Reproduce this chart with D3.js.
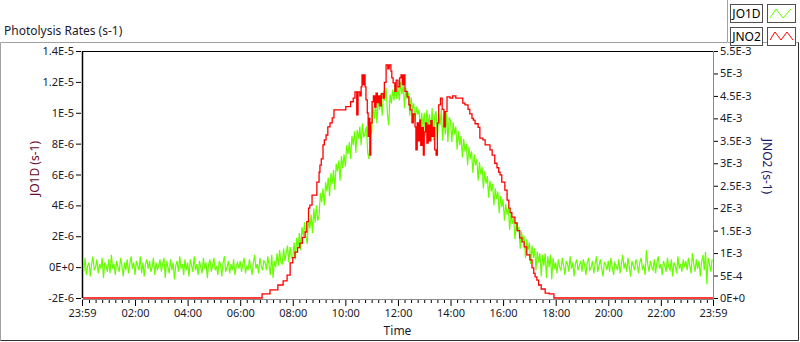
<!DOCTYPE html>
<html>
<head>
<meta charset="utf-8">
<script src="https://cdn.jsdelivr.net/npm/d3@7"></script>
<style>
  body { margin: 0; background: #fff; }
  svg { display: block; font-family: 'Noto Sans', sans-serif; }
</style>
</head>
<body>
<div id="chart"></div>
<script>
// JO1D, 1E-6 s-1, one reading every 3 minutes from 00:00 (one row per hour)
const jo1d = [
  0.4,-0.3,0.6,-0.5,0.1,0.3,-0.6,0.2,0.7,-0.2,0.0,0.5,-0.4,0.2,-0.1,0.6,-0.7,0.3,0.1,-0.3,
  0.5,-0.4,0.8,-0.1,0.2,-0.5,0.4,0.0,-0.3,0.6,0.1,-0.6,0.3,-0.2,0.5,-0.4,0.2,0.7,-0.1,0.3,
  -0.5,0.4,0.1,-0.2,0.7,-0.4,0.3,-0.6,0.2,0.5,-0.1,0.4,-0.3,0.0,0.6,-0.5,0.3,-0.2,0.1,0.5,
  -0.3,0.2,0.6,-0.7,0.4,0.0,-0.4,0.5,-0.2,0.3,-0.8,0.1,0.4,-0.3,0.7,-0.1,0.2,-0.5,0.5,-0.2,
  0.3,-0.6,0.5,0.1,-0.3,0.7,-0.2,0.2,-0.5,0.4,0.0,-0.4,0.6,-0.1,0.3,-0.7,0.2,0.5,-0.3,0.1,
  0.6,-0.2,0.1,-0.5,0.4,0.2,-0.6,0.3,0.7,-0.3,0.0,0.4,-0.4,0.2,-0.2,0.5,-0.5,0.1,0.3,-0.1,
  0.4,-0.3,0.2,0.6,-0.4,0.1,-0.2,0.5,0.0,-0.5,0.3,0.8,-0.1,0.2,-0.4,0.6,0.1,-0.2,0.4,0.3,
  -0.2,0.7,0.1,-0.5,0.8,-0.7,0.4,0.0,0.9,0.1,1.1,0.3,0.2,1.2,0.4,0.9,1.4,0.3,1.3,0.6,
  0.6,1.6,0.5,1.9,1.3,2.2,1.1,2.6,2.0,2.9,2.0,1.5,3.2,2.5,3.4,2.2,3.8,2.9,4.0,3.0,
  3.3,4.8,4.2,5.1,4.0,5.5,4.9,5.8,4.6,6.1,5.4,6.3,5.0,6.7,6.2,6.9,5.6,7.2,6.4,7.3,
  6.5,7.9,7.3,8.1,7.0,8.5,7.9,8.8,7.4,8.9,8.3,9.1,7.9,9.3,8.4,8.7,9.1,7.4,7.0,8.6,
  8.7,10.4,9.6,10.7,9.3,11.0,10.2,11.2,9.8,11.4,10.8,11.6,9.9,9.2,11.2,10.6,11.5,10.8,11.9,10.9,
  11.7,10.8,12.0,11.2,11.8,10.3,11.6,10.9,11.3,9.8,11.0,10.2,10.6,9.4,10.4,9.9,10.2,8.9,10.0,9.1,
  10.0,8.5,10.2,9.1,9.9,8.6,10.3,8.2,9.8,10.1,8.3,9.9,9.2,10.2,8.2,9.8,8.6,10.0,8.1,9.7,
  9.5,8.1,9.4,8.6,9.1,7.6,8.8,7.9,8.5,7.1,8.3,7.5,8.0,6.6,7.8,7.0,7.5,6.1,7.3,6.6,
  7.0,5.6,6.8,6.0,6.5,5.1,6.2,5.4,5.9,4.5,5.6,4.9,5.4,4.0,5.1,4.4,4.9,3.5,4.6,3.9,
  4.4,3.0,4.1,3.4,3.8,2.4,3.5,2.8,3.2,1.8,2.9,2.3,2.6,1.2,2.3,1.7,2.0,0.6,1.8,1.1,
  1.6,0.2,1.4,0.6,1.2,-0.2,1.0,0.3,0.9,-0.6,0.8,0.1,0.9,-0.7,0.7,0.0,0.8,-0.8,0.6,-0.1,
  0.3,-0.4,0.5,0.0,-0.2,0.6,0.1,-0.5,0.4,0.2,-0.3,0.7,-0.1,0.3,-0.6,0.2,0.5,-0.2,0.1,0.4,
  -0.3,0.5,0.1,-0.5,0.3,0.6,-0.2,0.0,0.4,-0.4,0.2,0.7,-0.3,0.1,0.5,-0.1,-0.6,0.3,0.2,-0.2,
  0.4,-0.3,0.6,0.0,-0.5,0.3,0.1,-0.2,0.5,-0.4,0.2,0.8,-0.1,0.3,-0.3,0.6,0.0,-0.6,0.4,0.1,
  -0.2,0.5,0.2,-0.4,0.3,0.6,-0.1,0.1,-0.5,1.1,0.2,-0.3,0.4,0.0,-0.2,0.5,-0.4,0.3,0.7,-0.1,
  0.2,-0.5,0.4,0.1,-0.3,0.6,0.0,-0.2,0.5,-0.6,0.3,0.1,-0.4,0.7,-0.1,0.2,-0.3,0.5,0.0,0.4,
  -0.2,0.6,0.1,-0.4,0.9,0.2,-0.3,0.5,-0.1,0.4,-0.6,0.3,0.8,-0.2,1.0,-1.1,0.6,0.2,-0.3,0.5
];
const jo1dStep = 3;

// JNO2, 1E-3 s-1, step changes as [minute of day, value]
const jno2 = [
  [-1,0],[410,0.09],[428,0.18],[446,0.29],[458,0.38],[467,0.51],[474,0.78],[480,0.9],
  [485,1.02],[491,1.12],[496,1.22],[502,1.35],[508,1.47],[512,1.7],[516,2.0],[519,2.07],
  [524,2.29],[535,2.58],[540,2.8],[542,2.96],[545,3.1],[549,3.41],[552,3.52],[556,3.63],
  [560,3.81],[565,3.9],[570,4.01],[574,4.19],[601,4.26],[612,4.37],[618,4.45],[622,4.59],
  [626,4.08],[629,4.59],[633,4.5],[636,4.7],[638,4.97],[640,4.75],[642,4.97],[645,4.7],
  [647,4.41],[650,4.12],[652,3.6],[654,4.0],[656,3.18],[658,3.9],[661,4.37],[664,4.5],
  [667,4.25],[670,4.56],[673,4.35],[676,4.5],[679,4.28],[682,4.55],[686,4.45],[689,4.8],
  [693,5.19],[697,5.1],[700,5.19],[704,5.05],[706,4.9],[709,4.79],[713,4.6],[716,4.85],
  [720,4.7],[724,4.9],[727,4.97],[730,4.75],[733,4.97],[736,4.6],[741,4.48],[745,4.3],
  [748,4.19],[752,3.9],[755,4.1],[759,3.81],[761,3.3],[764,3.9],[767,3.5],[770,3.96],
  [772,3.4],[775,3.8],[778,3.18],[780,3.7],[783,3.9],[786,3.45],[789,3.85],[792,3.5],
  [795,3.95],[798,3.6],[801,3.8],[804,3.3],[807,3.18],[810,3.9],[813,4.3],[817,4.45],
  [821,4.2],[825,3.81],[828,4.15],[832,4.48],[839,4.45],[845,4.5],[852,4.45],[868,4.34],
  [873,4.3],[880,4.2],[884,4.1],[889,4.0],[892,3.96],[896,3.88],[903,3.8],[907,3.56],
  [914,3.52],[919,3.41],[930,3.3],[935,3.18],[941,3.0],[946,2.9],[950,2.8],[953,2.74],
  [957,2.58],[964,2.4],[969,2.18],[973,2.0],[976,1.9],[980,1.8],[987,1.67],[992,1.5],
  [998,1.34],[1003,1.25],[1008,1.14],[1014,0.96],[1021,0.85],[1026,0.67],[1030,0.55],
  [1033,0.47],[1037,0.4],[1041,0.29],[1047,0.2],[1056,0.11],[1065,0.09],[1076,0],[1439,0]
];

const leftTicks = [-2,0,2,4,6,8,10,12,14];
const leftTickLabels = ['-2E-6','0E+0','2E-6','4E-6','6E-6','8E-6','1E-5','1.2E-5','1.4E-5'];
const rightTicks = [0,0.5,1,1.5,2,2.5,3,3.5,4,4.5,5,5.5];
const rightTickLabels = ['0E+0','5E-4','1E-3','1.5E-3','2E-3','2.5E-3','3E-3','3.5E-3','4E-3','4.5E-3','5E-3','5.5E-3'];
const timeTicks = [-1,120,240,360,480,600,720,840,960,1080,1200,1320,1439];
const timeTickLabels = ['23:59','02:00','04:00','06:00','08:00','10:00','12:00','14:00','16:00','18:00','20:00','22:00','23:59'];
const seriesNames = ['JO1D','JNO2'];
const seriesColors = ['#66ff00','#ff0000'];

const W = 800, H = 342;
const plot = { left: 82, right: 713, top: 51, bottom: 298 };
const textColor = '#1a1a2a';

const svg = d3.select('#chart').append('svg').attr('width', W).attr('height', H);

// outer frame
svg.append('path').attr('d', `M0.5,340.5V42.5H727`).attr('fill', 'none').attr('stroke', '#a0a0a0');
svg.append('path').attr('d', `M0.5,340.5H798.5V42`).attr('fill', 'none').attr('stroke', '#303030');
svg.append('text').attr('x', 4).attr('y', 35).attr('font-size', 12).attr('fill', textColor)
  .text('Photolysis Rates (s-1)');

const x = d3.scaleLinear().domain([-1, 1439]).range([plot.left, plot.right]);
const yL = d3.scaleLinear().domain([-2, 14]).range([plot.bottom, plot.top]);
const yR = d3.scaleLinear().domain([0, 5.5]).range([plot.bottom, plot.top]);

// plot frame
svg.append('line').attr('x1', plot.left).attr('x2', plot.right).attr('y1', plot.top + 0.5).attr('y2', plot.top + 0.5)
  .attr('stroke', '#000');
svg.append('line').attr('x1', plot.left + 0.5).attr('x2', plot.left + 0.5).attr('y1', plot.top).attr('y2', plot.bottom)
  .attr('stroke', '#000').attr('stroke-width', 1.5);
svg.append('line').attr('x1', plot.right + 0.5).attr('x2', plot.right + 0.5).attr('y1', plot.top).attr('y2', plot.bottom + 1)
  .attr('stroke', '#8a8a8a');
svg.append('line').attr('x1', plot.left).attr('x2', plot.right + 1).attr('y1', plot.bottom + 1.5).attr('y2', plot.bottom + 1.5)
  .attr('stroke', '#8a8a8a');

// axes
const styleAxis = g => {
  g.select('.domain').remove();
  g.attr('font-family', null).attr('font-size', 11);
  g.selectAll('.tick line').attr('stroke', '#000');
  g.selectAll('.tick text').attr('fill', textColor);
};

svg.append('g').attr('transform', `translate(${plot.left - 1},0)`)
  .call(d3.axisLeft(yL).tickValues(leftTicks).tickFormat((d, i) => leftTickLabels[i]).tickSize(5).tickPadding(2))
  .call(styleAxis);

svg.append('g').attr('transform', `translate(${plot.right + 1},0)`)
  .call(d3.axisRight(yR).tickValues(rightTicks).tickFormat((d, i) => rightTickLabels[i]).tickSize(4).tickPadding(2))
  .call(styleAxis);

const minorTicks = d3.range(15, 1439, 15).filter(t => t % 120 !== 0);
svg.append('g').attr('transform', `translate(0,${plot.bottom + 2})`)
  .call(d3.axisBottom(x).tickValues(minorTicks).tickFormat('').tickSize(3))
  .call(styleAxis);
svg.append('g').attr('transform', `translate(0,${plot.bottom + 2})`)
  .call(d3.axisBottom(x).tickValues(timeTicks).tickFormat((d, i) => timeTickLabels[i]).tickSize(6).tickPadding(3))
  .call(styleAxis);

svg.append('text').attr('x', (plot.left + plot.right) / 2).attr('y', 335).attr('text-anchor', 'middle')
  .attr('font-size', 12).attr('fill', textColor).text('Time');
svg.append('text').attr('transform', `translate(39,${(plot.top + plot.bottom) / 2 - 6}) rotate(-90)`)
  .attr('text-anchor', 'middle').attr('font-size', 12).attr('fill', '#6a0a2a').text('JO1D (s-1)');
svg.append('text').attr('transform', `translate(763,${(plot.top + plot.bottom) / 2 - 8}) rotate(90)`)
  .attr('text-anchor', 'middle').attr('font-size', 12).attr('fill', '#1a1a6a').text('JNO2 (s-1)');

// data
svg.append('clipPath').attr('id', 'clip').append('rect')
  .attr('x', plot.left + 1).attr('y', plot.top).attr('width', plot.right - plot.left).attr('height', plot.bottom - plot.top + 1);
const lines = svg.append('g').attr('clip-path', 'url(#clip)');

const greenLine = d3.line().x((d, i) => x(i * jo1dStep)).y(d => yL(d));
lines.append('path').attr('d', greenLine(jo1d)).attr('fill', 'none')
  .attr('stroke', seriesColors[0]).attr('stroke-width', 1.2);

const redLine = d3.line().curve(d3.curveStepAfter).x(d => x(d[0])).y(d => yR(d[1]));
lines.append('path').attr('d', redLine(jno2)).attr('fill', 'none')
  .attr('stroke', seriesColors[1]).attr('stroke-width', 1.3);

// legend
const legend = svg.append('g');
legend.append('path').attr('d', 'M727.5,0V42.5H798.5').attr('fill', 'none').attr('stroke', '#a0a0a0');
seriesNames.forEach((name, i) => {
  const top = 4 + i * 23;
  legend.append('rect').attr('x', 730.5).attr('y', top + 0.5).attr('width', 32).attr('height', 18)
    .attr('fill', '#fff').attr('stroke', '#505050');
  legend.append('text').attr('x', 746.5).attr('y', top + 14).attr('text-anchor', 'middle')
    .attr('font-size', 12).attr('fill', '#000').text(name);
  legend.append('rect').attr('x', 767.5).attr('y', top + 0.5).attr('width', 28).attr('height', 18)
    .attr('fill', '#fff').attr('stroke', '#505050');
  const zig = i === 0
    ? [[770, top + 14], [776, top + 5], [783, top + 14], [791, top + 5]]
    : [[770, top + 13], [775, top + 5], [781, top + 13], [787, top + 5], [793, top + 13]];
  legend.append('path').attr('d', d3.line()(zig)).attr('fill', 'none')
    .attr('stroke', seriesColors[i]).attr('stroke-width', 1);
});
</script>
</body>
</html>
